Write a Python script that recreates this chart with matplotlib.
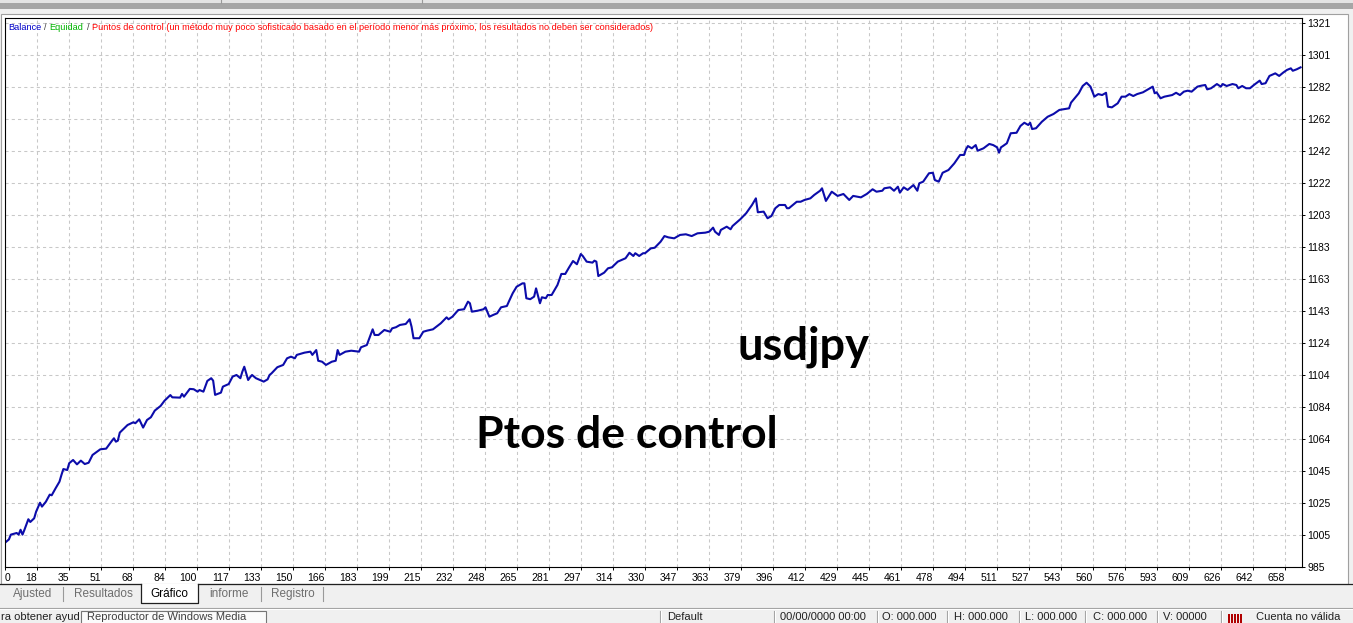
import matplotlib.pyplot as plt
from matplotlib.patches import Rectangle

# equity curve (trade number, balance)
trades = [0, 2, 3, 6, 7, 8, 9, 10, 12, 13, 15, 16, 18, 19, 21, 23, 24, 26, 28, 29,
          30, 32, 33, 35, 37, 39, 41, 43, 45, 49, 52, 55, 56, 57, 58, 59, 63, 66, 67, 69,
          71, 73, 75, 77, 80, 82, 85, 86, 90, 91, 92, 95, 97, 99, 100, 102, 104, 106, 107, 108,
          111, 112, 115, 117, 119, 121, 122, 123, 125, 126, 127, 129, 133, 135, 136, 137, 140, 143, 145, 147,
          149, 150, 154, 157, 158, 160, 161, 163, 165, 168, 170, 171, 172, 175, 178, 182, 183, 186, 189, 190,
          192, 195, 198, 199, 201, 203, 206, 208, 209, 210, 213, 215, 217, 220, 224, 227, 228, 230, 233, 236,
          238, 239, 240, 243, 246, 247, 249, 251, 253, 255, 258, 259, 261, 263, 266, 267, 268, 270, 272, 273,
          275, 276, 278, 279, 281, 283, 284, 286, 288, 290, 292, 294, 296, 297, 299, 302, 303, 304, 305, 308,
          310, 312, 315, 319, 321, 323, 324, 326, 328, 329, 332, 334, 337, 339, 341, 344, 347, 350, 353, 356,
          360, 362, 364, 365, 367, 368, 371, 373, 374, 378, 381, 384, 386, 387, 390, 392, 394, 396, 398, 401,
          402, 403, 405, 407, 409, 411, 414, 416, 419, 420, 422, 425, 428, 431, 434, 436, 440, 443, 446, 448,
          451, 452, 455, 457, 459, 460, 462, 464, 466, 467, 469, 470, 472, 475, 477, 478, 480, 482, 485, 488,
          491, 493, 494, 495, 497, 499, 500, 503, 506, 508, 510, 511, 512, 513, 515, 517, 520, 522, 524, 526,
          527, 528, 530, 533, 536, 539, 542, 547, 548, 552, 554, 556, 558, 560, 562, 564, 566, 567, 569, 572,
          574, 576, 578, 580, 582, 585, 587, 590, 591, 592, 594, 596, 600, 602, 604, 606, 608, 610, 613, 615,
          617, 618, 620, 623, 625, 626, 628, 631, 633, 634, 636, 638, 640, 642, 645, 646, 648, 650, 653, 655,
          657, 659, 661, 662, 664, 666]
balance = [1000.0, 1002.0, 1005.0, 1006.0, 1005.0, 1008.0, 1005.0, 1008.0, 1014.5, 1012.8, 1015.1, 1019.2, 1024.7, 1022.3, 1025.3, 1029.7, 1029.3, 1033.6, 1037.7, 1041.8,
           1045.5, 1044.9, 1049.1, 1051.1, 1048.4, 1050.7, 1048.6, 1049.4, 1054.2, 1057.7, 1058.1, 1063.0, 1064.5, 1062.4, 1063.0, 1068.0, 1072.7, 1074.4, 1073.8, 1076.2,
           1071.1, 1075.8, 1077.5, 1081.6, 1084.5, 1087.7, 1091.2, 1089.8, 1089.6, 1091.9, 1090.2, 1095.0, 1094.8, 1093.3, 1094.3, 1093.3, 1099.9, 1101.6, 1100.1, 1091.3,
           1092.7, 1096.4, 1098.0, 1102.6, 1103.6, 1101.6, 1105.6, 1108.7, 1100.5, 1102.2, 1103.6, 1101.6, 1099.5, 1100.9, 1103.6, 1104.6, 1108.4, 1109.8, 1113.9, 1114.9,
           1113.9, 1116.0, 1117.4, 1118.0, 1116.0, 1119.0, 1112.4, 1111.8, 1109.8, 1111.8, 1112.4, 1119.0, 1116.0, 1118.0, 1118.6, 1118.0, 1120.7, 1122.1, 1131.8, 1128.3,
           1128.3, 1131.4, 1130.3, 1132.4, 1133.1, 1134.5, 1135.1, 1138.0, 1133.4, 1126.3, 1126.3, 1130.3, 1131.0, 1131.8, 1135.5, 1139.2, 1138.0, 1139.6, 1143.7, 1144.2,
           1148.9, 1147.9, 1142.7, 1143.3, 1144.2, 1145.4, 1139.6, 1140.7, 1141.7, 1145.4, 1146.2, 1148.9, 1154.1, 1158.1, 1160.2, 1160.2, 1151.0, 1150.4, 1152.0, 1157.1,
           1147.9, 1151.6, 1151.0, 1153.0, 1153.0, 1157.1, 1159.2, 1166.0, 1166.0, 1170.1, 1174.0, 1172.0, 1178.3, 1177.1, 1173.6, 1173.0, 1174.2, 1173.6, 1164.7, 1166.8,
           1169.5, 1170.1, 1173.6, 1175.7, 1179.1, 1177.1, 1178.8, 1177.1, 1178.8, 1178.8, 1181.8, 1182.2, 1185.9, 1189.4, 1188.6, 1188.0, 1190.1, 1190.5, 1189.4, 1191.1,
           1191.5, 1192.1, 1194.6, 1192.1, 1190.1, 1193.2, 1195.2, 1193.6, 1195.6, 1199.8, 1203.5, 1208.6, 1212.7, 1204.1, 1204.5, 1200.4, 1201.8, 1206.6, 1208.6, 1208.6,
           1206.6, 1206.6, 1208.6, 1210.6, 1210.6, 1211.7, 1212.7, 1214.8, 1217.4, 1218.9, 1211.1, 1216.8, 1214.2, 1215.4, 1211.7, 1214.2, 1213.3, 1215.4, 1218.3, 1216.8,
           1217.4, 1218.9, 1219.5, 1217.4, 1219.9, 1216.2, 1219.5, 1217.9, 1219.9, 1220.9, 1217.4, 1222.0, 1223.0, 1228.2, 1228.5, 1224.0, 1223.0, 1228.5, 1230.2, 1234.3,
           1239.5, 1239.5, 1243.0, 1245.0, 1243.6, 1245.6, 1242.1, 1243.6, 1246.3, 1245.6, 1244.2, 1240.9, 1244.2, 1245.0, 1246.7, 1252.9, 1253.2, 1257.4, 1259.4, 1258.0,
           1259.4, 1255.5, 1256.0, 1260.0, 1263.1, 1264.8, 1267.3, 1268.3, 1271.8, 1277.6, 1282.1, 1284.1, 1281.7, 1275.5, 1277.1, 1276.5, 1277.9, 1269.3, 1268.9, 1271.4,
           1275.5, 1275.5, 1277.1, 1275.9, 1277.1, 1278.2, 1279.6, 1281.7, 1277.6, 1278.2, 1274.5, 1275.5, 1276.5, 1277.9, 1276.5, 1278.6, 1279.2, 1278.6, 1281.7, 1282.3,
           1282.7, 1280.0, 1280.7, 1283.3, 1281.7, 1283.3, 1282.1, 1283.3, 1282.7, 1280.7, 1282.1, 1280.7, 1280.7, 1282.7, 1285.4, 1283.3, 1283.8, 1288.3, 1289.9, 1288.3,
           1290.3, 1292.0, 1293.0, 1291.5, 1292.4, 1293.6]

x_labels = [0, 18, 35, 51, 68, 84, 100, 117, 133, 150, 166, 183, 199, 215, 232, 248, 265, 281, 297, 314,
            330, 347, 363, 379, 396, 412, 429, 445, 461, 478, 494, 511, 527, 543, 560, 576, 593, 609, 626, 642, 658]
y_labels = [985, 1005, 1025, 1045, 1064, 1084, 1104, 1124, 1143, 1163, 1183, 1203, 1222, 1242, 1262, 1282, 1301, 1321]
legend_parts = [("Balance", "#0000c8"), ("/", "#404040"), ("Equidad", "#00b400"), ("/", "#404040"),
                ("Puntos de control (un método muy poco sofisticado basado en el período menor más próximo, "
                 "los resultados no deben ser considerados)", "#ff0000")]
tab_names = ["Ajusted", "Resultados", "Gráfico", "informe", "Registro"]
status_texts = ["Default", "00/00/0000 00:00", "O: 000.000", "H: 000.000", "L: 000.000",
                "C: 000.000", "V: 00000", "Cuenta no válida"]

W, H = 1353, 623
fig = plt.figure(figsize=(W / 100, H / 100), dpi=100, facecolor="#f0f0f0")

# window chrome drawn in pixel units
bg = fig.add_axes([0, 0, 1, 1])
bg.set_xlim(0, W)
bg.set_ylim(H, 0)
bg.axis("off")
bg.add_patch(Rectangle((0, 0), W, 2.5, fc="#e4e4e4", lw=0))
bg.add_patch(Rectangle((0, 2.5), W, 6.5, fc="#a6a6a6", lw=0))
for xs in (221, 422):
    bg.plot([xs, xs], [0, 2.5], color="#9a9a9a", lw=0.8)
bg.add_patch(Rectangle((0.5, 14), 1347.5, 570, fc="white", ec="#a0a0a0", lw=0.8))
bg.plot([0, 141], [584, 584], color="#202020", lw=0.9)
bg.plot([198, W], [584, 584], color="#202020", lw=0.9)
bg.add_patch(Rectangle((141, 584), 57, 19, fc="white", lw=0))
bg.plot([141, 141, 198, 198], [584, 603, 603, 584], color="#202020", lw=0.9)

tab_x = [13, 74, 150, 209, 271]
for name, tx in zip(tab_names, tab_x):
    bg.text(tx, 594, name, fontsize=8.5, family="Liberation Sans", va="center",
            color="black" if name == "Gráfico" else "#6e6e6e")
for sx in (63, 261, 323):
    bg.plot([sx, sx], [587, 601], color="#9a9a9a", lw=0.8)

# status bar
bg.plot([0, W], [607.5, 607.5], color="#a0a0a0", lw=0.8)
bg.plot([0, W], [608.5, 608.5], color="white", lw=0.8)
bg.text(1, 611.5, "ra obtener ayud", fontsize=8, family="Liberation Sans", va="top", color="#202020")
bg.add_patch(Rectangle((81, 611), 185, 14, fc="#fbfbfb", ec="#767676", lw=0.8))
bg.text(87, 611.5, "Reproductor de Windows Media", fontsize=8, family="Liberation Sans", va="top", color="#404040")
for sx in (660, 774, 877, 947, 1019, 1085, 1157, 1221):
    bg.plot([sx, sx], [611, 623], color="#a0a0a0", lw=0.8)
    bg.plot([sx + 1, sx + 1], [611, 623], color="white", lw=0.8)
status_x = [667, 780, 882, 954, 1025, 1093, 1163, 1256]
for s, sx in zip(status_texts, status_x):
    bg.text(sx, 611.5, s, fontsize=8, family="Liberation Sans", va="top", color="#202020")
for k in range(5):
    bg.add_patch(Rectangle((1228 + k * 3, 614), 2, 9, fc="#b00000", lw=0))

# chart area
ppt = 32 / 16.45            # pixels per trade
step = (1321 - 985) / 17    # value per grid row
ax = fig.add_axes([5 / W, 1 - 567 / H, 1297 / W, 549 / H])
ax.set_facecolor("none")
ax.set_xlim(0, 1297 / ppt)
ax.set_ylim(985, 985 + 549 / 32 * step)
ax.plot(trades, balance, color="#0c0caa", lw=1.5, solid_joinstyle="round")

xt = [k * 16.45 for k in range(len(x_labels))]
yt = [985 + k * step for k in range(len(y_labels))]
ax.set_xticks(xt)
ax.set_xticklabels([str(v) for v in x_labels])
ax.set_yticks(yt)
ax.set_yticklabels([str(v) for v in y_labels])
ax.yaxis.tick_right()
ax.grid(True, color="#c8c8c8", linestyle=(0, (3, 3)), lw=0.75)
ax.tick_params(direction="out", length=2.5, width=0.7, labelsize=7.5, pad=1.5, colors="black")
for lbl in ax.get_xticklabels():
    lbl.set_family("Liberation Sans")
    lbl.set_ha("right")
ax.get_xticklabels()[0].set_ha("left")
for lbl in ax.get_yticklabels():
    lbl.set_family("Liberation Sans")
for sp in ax.spines.values():
    sp.set_color("black")
    sp.set_linewidth(0.8)

# legend line at the top left, pieces chained by measured width
renderer = fig.canvas.get_renderer()
x0 = 8
for s, c in legend_parts:
    t = fig.text(x0, 27, s, color=c, fontsize=6.55, family="Liberation Sans",
                 va="center", transform=bg.transData)
    x0 += t.get_window_extent(renderer).width + 3

fig.text(737, 359, "usdjpy", fontsize=32.5, fontweight="bold", family="Lato",
         va="baseline", transform=bg.transData)
fig.text(476, 448, "Ptos de control", fontsize=32, fontweight="bold", family="Lato",
         va="baseline", transform=bg.transData)

fig.savefig("out.png", dpi=100, facecolor=fig.get_facecolor())
